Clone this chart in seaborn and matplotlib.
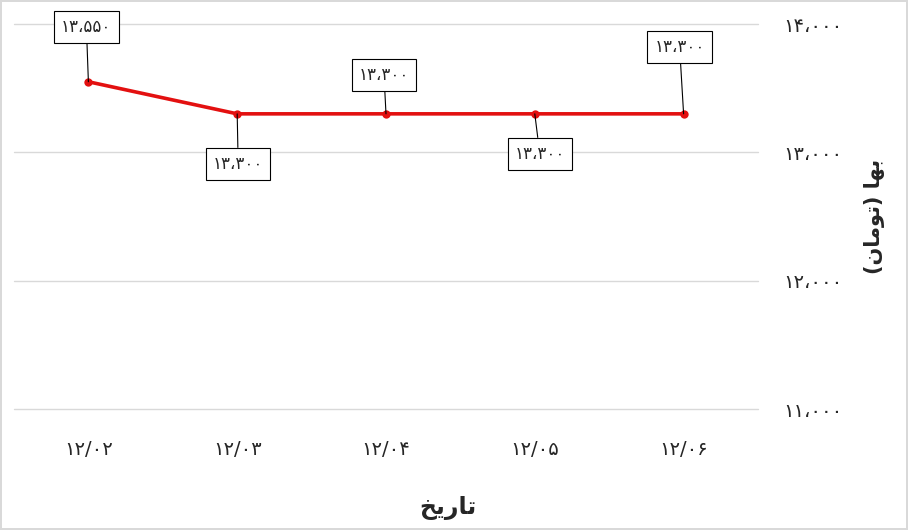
import pandas as pd
import matplotlib
matplotlib.use("Agg")
import matplotlib.pyplot as plt
import seaborn as sns
from matplotlib.ticker import FuncFormatter

# data
dates = ["۱۲/۰۲", "۱۲/۰۳", "۱۲/۰۴", "۱۲/۰۵", "۱۲/۰۶"]
prices = [13550, 13300, 13300, 13300, 13300]
# label offsets (pixels) of the value boxes
label_dx = [-2, 1, -2, 5, -4]
label_dy = [55, -50, 39, -40, 67]

# shaped (visual order) arabic-script labels
x_title = "\uFEA6\uFEF3\uFEAD\uFE8E\uFE97"  # تاریخ
y_title = "(\uFEE5\uFE8E\uFEE3\uFEEE\uFE97) \uFE8E\uFEEC\uFE91"  # بها (تومان)

fa_digits = str.maketrans("0123456789,", "۰۱۲۳۴۵۶۷۸۹،")


def fa_num(v):
    return f"{int(v):,}".translate(fa_digits)


sns.set_style("white")
plt.rcParams["font.family"] = ["DejaVu Sans"]

df = pd.DataFrame({"date": dates, "price": prices})

fig = plt.figure(figsize=(9.08, 5.30), dpi=100)
fig.patch.set_edgecolor("#d9d9d9")
fig.patch.set_linewidth(1.5)
ax = fig.add_axes([0.0154, 0.2283, 0.8194, 0.7264])

sns.lineplot(data=df, x="date", y="price", sort=False, color="#e31010",
             linewidth=2.6, marker="o", markersize=6, markeredgewidth=0, ax=ax, zorder=3)

ax.set_xlim(-0.5, len(dates) - 0.5)
ax.set_ylim(11000, 14000)
ax.set_yticks([11000, 12000, 13000, 14000])
ax.yaxis.set_major_formatter(FuncFormatter(lambda v, p: fa_num(v)))
ax.yaxis.tick_right()
ax.yaxis.set_label_position("right")
ax.grid(axis="y", color="#d9d9d9", linewidth=1)
ax.grid(axis="x", visible=False)
for gl in ax.get_ygridlines():
    gl.set_clip_on(False)
for s in ax.spines.values():
    s.set_visible(False)
ax.tick_params(axis="y", length=0, pad=18, labelsize=14)
ax.tick_params(axis="x", length=0, pad=22, labelsize=14)

ax.set_xlabel(x_title, fontsize=17, fontweight="bold", labelpad=26)
ax.xaxis.set_label_coords(0.583, -0.225)
ax.set_ylabel(y_title, fontsize=15, fontweight="bold", labelpad=16)

for i, v in enumerate(prices):
    ax.annotate(fa_num(v), xy=(i, v), xytext=(label_dx[i], label_dy[i]),
                textcoords="offset pixels", ha="center", va="center", fontsize=12,
                bbox=dict(boxstyle="square,pad=0.42", fc="white", ec="black", lw=0.8),
                arrowprops=dict(arrowstyle="-", color="black", lw=0.8, shrinkA=0, shrinkB=0),
                zorder=4)

fig.savefig("out.png", dpi=100, edgecolor=fig.get_edgecolor())
